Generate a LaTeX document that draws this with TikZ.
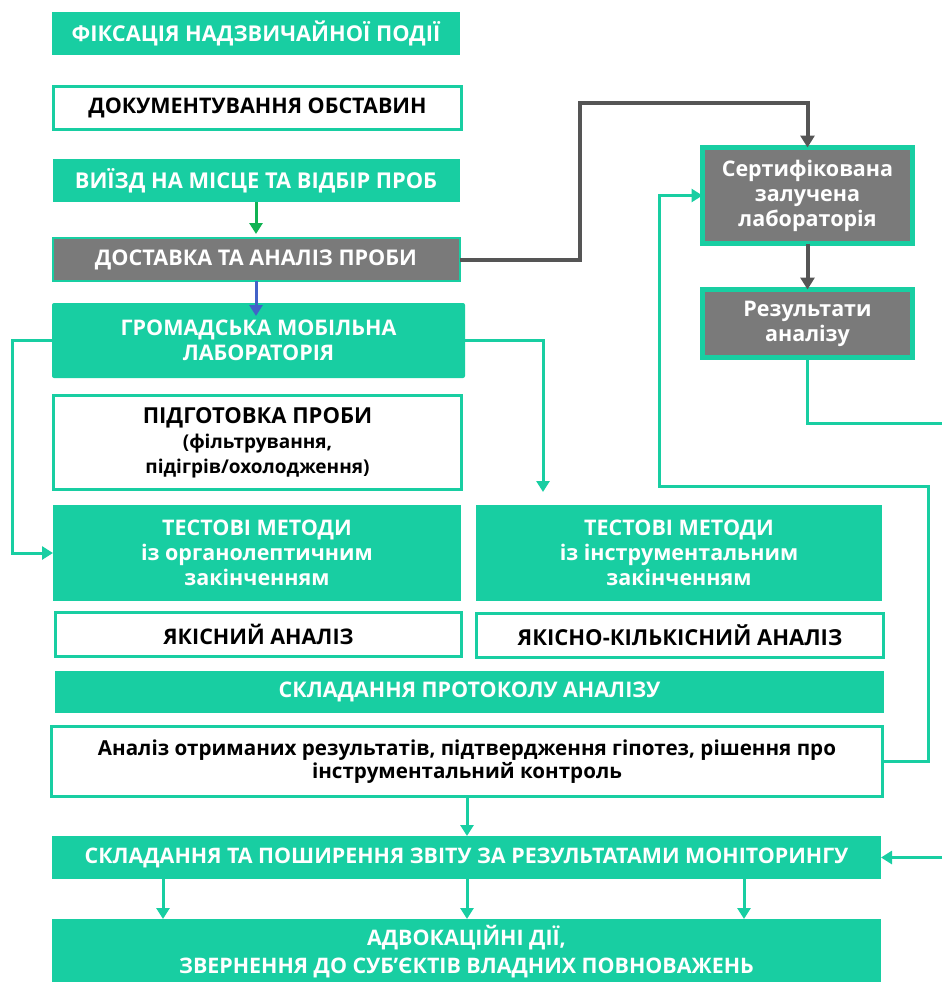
\documentclass[tikz,border=0pt]{standalone}
\usepackage{fontspec}
\setmainfont{Open Sans}
\usetikzlibrary{arrows.meta}
\definecolor{mint}{RGB}{24,206,162}
\definecolor{boxgray}{RGB}{122,122,122}
\definecolor{linkgray}{RGB}{85,85,85}
\definecolor{arrowgreen}{RGB}{16,178,82}
\definecolor{arrowblue}{RGB}{66,98,200}

\begin{document}
\begin{tikzpicture}[x=1pt,y=-1pt,
  box/.style={inner sep=0pt,outer sep=0pt,align=center,font=\bfseries\fontsize{21.5}{25}\selectfont},
  greenbox/.style={box,fill=mint,text=white},
  whitebox/.style={box,draw=mint,line width=3pt,fill=white,text=black},
  graybox/.style={box,fill=boxgray,draw=mint,text=white},
  link/.style={draw=mint,line width=3pt},
  arr/.style={-{Triangle[width=13pt,length=11pt]}},
  graylink/.style={draw=linkgray,line width=4pt,-{Triangle[width=14pt,length=12pt]}}
]
\useasboundingbox (0,0) rectangle (942,982);

\node [greenbox,minimum width=408,minimum height=43,font=\bfseries\fontsize{21.8}{26}\selectfont] (fix) at (256,33.5) {ФІКСАЦІЯ НАДЗВИЧАЙНОЇ ПОДІЇ};
\node [whitebox,minimum width=408,minimum height=43,font=\bfseries\fontsize{21.5}{25}\selectfont] (docs) at (257.5,108) {ДОКУМЕНТУВАННЯ ОБСТАВИН};
\node [greenbox,minimum width=407,minimum height=43,font=\bfseries\fontsize{21.8}{26}\selectfont] (trip) at (256,180.5) {ВИЇЗД НА МІСЦЕ ТА ВІДБІР ПРОБ};
\node [graybox,line width=2pt,minimum width=407,minimum height=43,font=\bfseries\fontsize{21.6}{25}\selectfont] (deliv) at (256,259.5) {ДОСТАВКА ТА АНАЛІЗ ПРОБИ};
\node [greenbox,rounded corners=2pt,minimum width=413,minimum height=75] (mob) at (258.5,340.5) {ГРОМАДСЬКА МОБІЛЬНА\\ЛАБОРАТОРІЯ};
\node [whitebox,minimum width=408,minimum height=94,font=\bfseries\fontsize{22}{25}\selectfont] (prep) at (257.5,442.5)
  {ПІДГОТОВКА ПРОБИ\\{\fontsize{19}{23}\selectfont (фільтрування,}\\{\fontsize{19}{23}\selectfont підігрів/охолодження)}};
\node [greenbox,minimum width=408,minimum height=96] (orgtest) at (257,553) {ТЕСТОВІ МЕТОДИ\\із органолептичним\\закінченням};
\node [greenbox,minimum width=406,minimum height=96] (insttest) at (679,553) {ТЕСТОВІ МЕТОДИ\\із інструментальним\\закінченням};
\node [whitebox,minimum width=406,minimum height=44] (qual) at (258.5,634.5) {ЯКІСНИЙ АНАЛІЗ};
\node [whitebox,minimum width=407,minimum height=44,font=\bfseries\fontsize{22}{25}\selectfont] (quant) at (680,635.5) {ЯКІСНО-КІЛЬКІСНИЙ АНАЛІЗ};
\node [greenbox,minimum width=829,minimum height=42] (proto) at (469.5,692) {СКЛАДАННЯ ПРОТОКОЛУ АНАЛІЗУ};
\node [whitebox,minimum width=831,minimum height=70,font=\bfseries\fontsize{20.6}{23}\selectfont] (review) at (467,761.5)
  {Аналіз отриманих результатів, підтвердження гіпотез, рішення про\\інструментальний контроль};
\node [greenbox,minimum width=829,minimum height=43,font=\bfseries\fontsize{21.4}{25}\selectfont] (report) at (466.5,857.5) {СКЛАДАННЯ ТА ПОШИРЕННЯ ЗВІТУ ЗА РЕЗУЛЬТАТАМИ МОНІТОРИНГУ};
\node [greenbox,minimum width=829,minimum height=66,font=\bfseries\fontsize{21.4}{28}\selectfont] (advoc) at (466.5,952) {АДВОКАЦІЙНІ ДІЇ,\\ЗВЕРНЕННЯ ДО СУБ'ЄКТІВ ВЛАДНИХ ПОВНОВАЖЕНЬ};
\node [graybox,line width=5pt,minimum width=210,minimum height=96] (certlab) at (807.5,195.5) {Сертифікована\\залучена\\лабораторія};
\node [graybox,line width=5pt,minimum width=210,minimum height=68] (results) at (807.5,323.5) {Результати\\аналізу};

\coordinate (bendA) at (580,103);
\coordinate (dropB) at (543,492);
\coordinate (loopR) at (928,486);
\coordinate (loopL) at (659,486);
\coordinate (edgeA) at (942,423);
\coordinate (edgeB) at (942,857.5);

\draw [draw=arrowgreen,line width=3pt,arr,shorten >=4pt] (trip.south) -- (deliv.north);
\draw [draw=arrowblue,line width=3pt,arr,shorten >=-13pt] (deliv.south) -- (deliv.south |- mob.north);
\draw [graylink] (deliv.east) -| (bendA) -| (certlab.north);
\draw [graylink] (certlab) -- (results);
\draw [link] (results.south) |- (edgeA);
\draw [link,arr] (edgeB) -- (report.east);
\draw [link,arr] (review.east) -| (loopR) -- (loopL) |- (certlab.west);
\draw [link,arr] (mob.west) -- ++(-40,0) |- (orgtest.west);
\draw [link,arr] (mob.east) -| (dropB);
\draw [link,arr] (review.south) -- (review.south |- report.north);
\foreach \xx in {163,467,744}
  \draw [link,arr] (report.south -| \xx,0) -- (advoc.north -| \xx,0);
\end{tikzpicture}
\end{document}
